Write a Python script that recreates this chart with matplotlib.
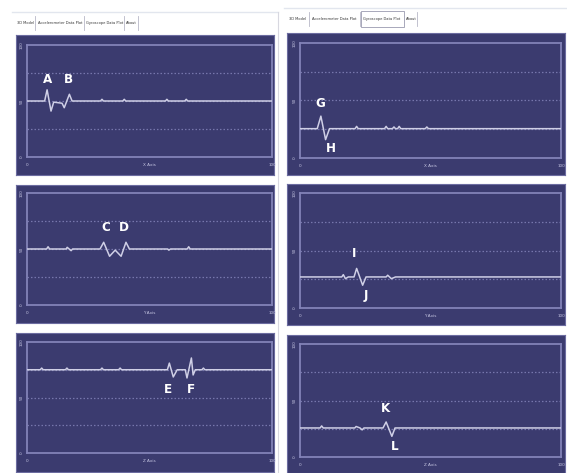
import matplotlib
matplotlib.use("Agg")
import matplotlib.pyplot as plt
from matplotlib.patches import Rectangle
from matplotlib.lines import Line2D

W, H = 567, 473

# ---- signal data (x in percent of window, y in sensor units 0..100) ----
acc_x_t = [0, 7.2, 8.2, 9.8, 10.9, 14.3, 15.2, 17.3, 18.4, 30.0, 30.6, 31.2,
           39.1, 39.7, 40.3, 56.5, 57.1, 57.7, 64.4, 65.0, 65.6, 100]
acc_x_v = [50, 50, 60, 41, 49, 48, 44, 56, 50, 50, 51.5, 50,
           50, 51.5, 50, 50, 51.5, 50, 50, 51.5, 50, 50]

acc_y_t = [0, 8.0, 8.6, 9.2, 16.0, 16.4, 17.2, 18.0, 18.6, 29.8, 31.3, 33.7,
           36.0, 38.4, 40.4, 41.8, 57.4, 57.9, 58.6, 65.4, 66.0, 66.6, 100]
acc_y_v = [50, 50, 52, 50, 50, 51.5, 50, 48.5, 50, 50, 56, 43.5,
           49, 43.5, 56, 50, 50, 49, 50, 50, 52, 50, 50]

acc_z_t = [0, 5.4, 6.0, 6.6, 15.7, 16.3, 16.9, 30.0, 30.6, 31.2, 37.4, 38.0,
           38.6, 57.3, 58.1, 59.7, 61.3, 64.6, 65.3, 67.1, 67.8, 68.7, 71.4,
           72.0, 72.6, 100]
acc_z_v = [75, 75, 76.5, 75, 75, 76.5, 75, 75, 76.5, 75, 75, 76.5,
           75, 75, 81, 68.5, 75, 75, 67.6, 85.6, 70.3, 75, 75,
           76.5, 75, 75]

gyr_x_t = [0, 6.6, 8.0, 9.8, 11.3, 21.1, 21.7, 22.3, 32.4, 33.0, 33.6, 35.4,
           36.0, 36.6, 37.4, 38.0, 38.6, 48.0, 48.6, 49.2, 100]
gyr_x_v = [25.5, 25.5, 36.4, 16, 25.5, 25.5, 27.5, 25.5, 25.5, 27.5, 25.5, 25.5,
           27, 25.5, 25.5, 27.5, 25.5, 25.5, 27, 25.5, 25.5]

gyr_y_t = [0, 16.0, 16.6, 17.4, 18.5, 20.7, 21.7, 24.0, 25.3, 33.0, 33.6,
           35.0, 36.6, 100]
gyr_y_v = [27, 27, 29, 25.5, 27, 27, 34.4, 19.8, 27, 27, 28.5,
           25.5, 27, 27]

gyr_z_t = [0, 7.7, 8.3, 8.9, 21.0, 21.5, 23.0, 23.8, 24.5, 31.8, 33.0, 35.2,
           36.4, 100]
gyr_z_v = [25.7, 25.7, 27.5, 25.7, 25.7, 27, 25.7, 24, 25.7, 25.7, 31, 18.3,
           25.7, 25.7]

# marker letters: (letter, x, y)
acc_x_marks = [("A", 8.2, 69), ("B", 16.8, 69)]
acc_y_marks = [("C", 32.0, 69), ("D", 39.7, 69)]
acc_z_marks = [("E", 57.7, 57), ("F", 67.0, 57)]
gyr_x_marks = [("G", 7.7, 47), ("H", 11.8, 8)]
gyr_y_marks = [("I", 20.7, 47), ("J", 25.3, 11)]
gyr_z_marks = [("K", 32.6, 42.5), ("L", 36.4, 9.4)]

y_ticks = [0, 50, 100]
y_tick_labels = ["0", "50", "100"]
x_tick_labels = ["0", "", "100"]
tab_names = ["3D Model", "Accelerometer Data Plot", "Gyroscope Data Plot", "About"]

NAVY = "#3b3b6f"
FRAME = "#8282b8"
TRACE = "#cfcfe6"
GRID = "#7676ac"


def fig_rect(x0, y0, x1, y1):
    return [x0 / W, 1 - y1 / H, (x1 - x0) / W, (y1 - y0) / H]


fig = plt.figure(figsize=(W / 100, H / 100), dpi=100)
fig.patch.set_facecolor("white")

panels = [
    # outer box, inner frame, data, marks, axis name
    ((16, 35, 274, 175), (27, 45, 272, 157), acc_x_t, acc_x_v, acc_x_marks, "X Axis"),
    ((16, 185, 274, 323), (27, 193, 272, 305), acc_y_t, acc_y_v, acc_y_marks, "Y Axis"),
    ((16, 333, 274, 472), (27, 342, 272, 453), acc_z_t, acc_z_v, acc_z_marks, "Z Axis"),
    ((287, 33, 565, 175), (300, 43, 561, 158), gyr_x_t, gyr_x_v, gyr_x_marks, "X Axis"),
    ((287, 184, 565, 325), (300, 193, 561, 308), gyr_y_t, gyr_y_v, gyr_y_marks, "Y Axis"),
    ((287, 335, 565, 473), (300, 344, 561, 457), gyr_z_t, gyr_z_v, gyr_z_marks, "Z Axis"),
]

for outer, inner, t, v, marks, axname in panels:
    bg = fig.add_axes(fig_rect(*outer))
    bg.set_facecolor(NAVY)
    bg.set_xticks([])
    bg.set_yticks([])
    for s in bg.spines.values():
        s.set_color("#6c6ca0")
        s.set_linewidth(0.8)

    ax = fig.add_axes(fig_rect(*inner))
    ax.set_facecolor(NAVY)
    ax.set_xlim(0, 100)
    ax.set_ylim(0, 100)
    for s in ax.spines.values():
        s.set_color(FRAME)
        s.set_linewidth(1.3)
    ax.set_xticks([])
    ax.set_yticks([])
    for g in (25, 50, 75):
        ax.axhline(g, color=GRID, lw=0.9, ls=(0, (1.2, 1.6)), zorder=1)
    ax.plot(t, v, color=TRACE, lw=1.1, zorder=3)

    for letter, lx, ly in marks:
        ax.text(lx, ly, letter, color="white", fontsize=9.5, fontweight="bold",
                family="DejaVu Sans", fontstretch="condensed",
                ha="center", va="center", zorder=4)

    # axis labels
    tr_y = ax.get_yaxis_transform()
    for yt, yl in zip(y_ticks, y_tick_labels):
        ax.text(-0.022, yt, yl, transform=tr_y, rotation=90, color="#c8c8e4",
                fontsize=3.0, ha="center", va="center", clip_on=False)
    tr_x = ax.get_xaxis_transform()
    for xt, xl in zip([0, 50, 100], [x_tick_labels[0], axname, x_tick_labels[2]]):
        ax.text(xt, -0.07, xl, transform=tr_x, color="#c8c8e4", fontsize=3.0,
                ha="center", va="center", clip_on=False)


# tab strips above each column
def draw_tabs(x_starts, seps, y_text, y_top, y_bot, selected_box):
    for name, xs in zip(tab_names, x_starts):
        fig.text(xs / W, 1 - y_text / H, name, fontsize=2.6, color="#333333",
                 ha="left", va="center")
    for sx in seps:
        fig.add_artist(Line2D([sx / W, sx / W], [1 - y_top / H, 1 - y_bot / H],
                              color="#b8b8c8", lw=0.6))
    if selected_box is not None:
        x0, x1 = selected_box
        fig.add_artist(Rectangle((x0 / W, 1 - (y_bot + 1) / H), (x1 - x0) / W,
                                 (y_bot - y_top + 2) / H, fill=False,
                                 edgecolor="#9a9ab0", lw=0.6))


draw_tabs([17, 38, 86, 126], [35, 84, 124, 138], 23, 16, 30, None)
draw_tabs([289, 312, 363, 406], [309, 360, 417], 19, 12, 26, (361, 404))

# faint outline lines of the window frames
fig.add_artist(Line2D([12 / W, 278 / W], [1 - 12 / H, 1 - 12 / H], color="#e2e6ee", lw=1.0))
fig.add_artist(Line2D([284 / W, 567 / W], [1 - 8 / H, 1 - 8 / H], color="#e2e6ee", lw=1.0))
fig.add_artist(Line2D([278 / W, 278 / W], [1 - 12 / H, 0], color="#d8d8e0", lw=0.8))

fig.savefig("out.png", dpi=100, facecolor="white")
